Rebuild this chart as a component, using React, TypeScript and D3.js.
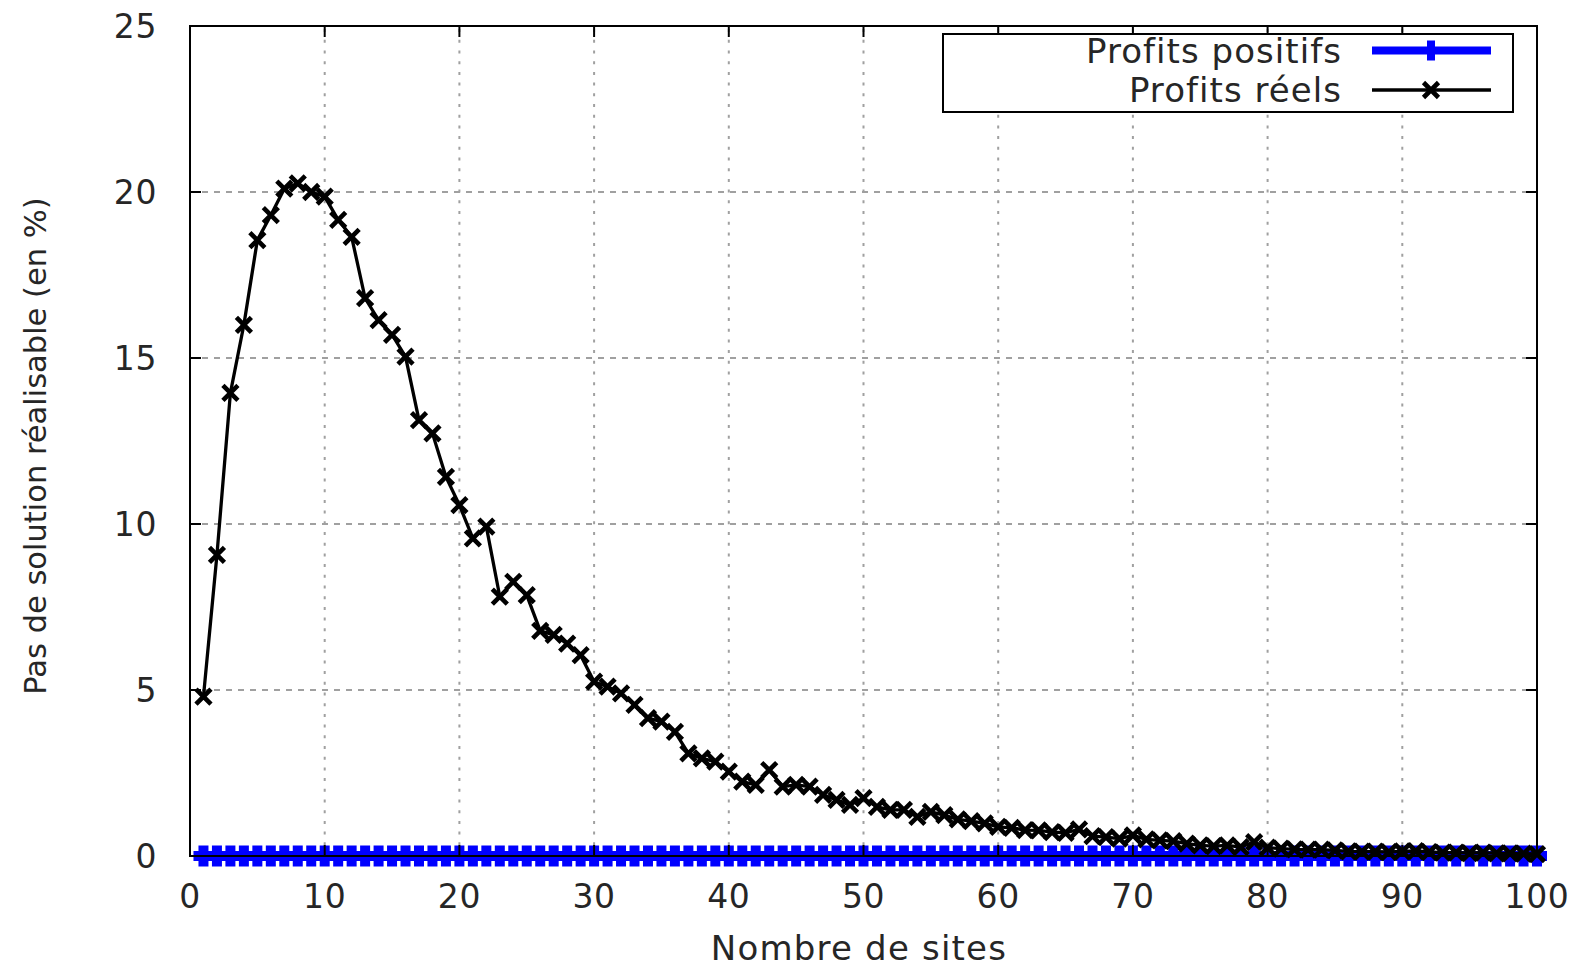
import React from "react";
import * as d3 from "d3";

const xTicks = [0, 10, 20, 30, 40, 50, 60, 70, 80, 90, 100];
const yTicks = [0, 5, 10, 15, 20, 25];
const seriesNames = ["Profits positifs", "Profits réels"];
const xTitle = "Nombre de sites";
const yTitle = "Pas de solution réalisable (en %)";

const profitsReels = [
  4.8, 9.07, 13.95, 16.0, 18.55, 19.3, 20.1, 20.26, 20.0, 19.86,
  19.16, 18.65, 16.8, 16.14, 15.7, 15.04, 13.13, 12.73, 11.42, 10.57,
  9.57, 9.92, 7.81, 8.26, 7.86, 6.78, 6.66, 6.4, 6.05, 5.25,
  5.1, 4.9, 4.55, 4.15, 4.05, 3.74, 3.09, 2.94, 2.84, 2.54,
  2.24, 2.14, 2.59, 2.09, 2.14, 2.09, 1.84, 1.69, 1.54, 1.74,
  1.48, 1.39, 1.39, 1.18, 1.33, 1.23, 1.1, 1.05, 0.98, 0.88,
  0.85, 0.78, 0.77, 0.72, 0.7, 0.8, 0.6, 0.57, 0.52, 0.62,
  0.5, 0.47, 0.45, 0.37, 0.32, 0.3, 0.32, 0.27, 0.42, 0.25,
  0.22, 0.2, 0.19, 0.19, 0.17, 0.14, 0.13, 0.13, 0.12, 0.14,
  0.15, 0.12, 0.1, 0.1, 0.09, 0.1, 0.08, 0.08, 0.07, 0.06,
];

const profitsPositifs = [
  0, 0, 0, 0, 0, 0, 0, 0, 0, 0,
  0, 0, 0, 0, 0, 0, 0, 0, 0, 0,
  0, 0, 0, 0, 0, 0, 0, 0, 0, 0,
  0, 0, 0, 0, 0, 0, 0, 0, 0, 0,
  0, 0, 0, 0, 0, 0, 0, 0, 0, 0,
  0, 0, 0, 0, 0, 0, 0, 0, 0, 0,
  0, 0, 0, 0, 0, 0, 0, 0, 0, 0,
  0, 0, 0, 0, 0, 0, 0, 0, 0, 0,
  0, 0, 0, 0, 0, 0, 0, 0, 0, 0,
  0, 0, 0, 0, 0, 0, 0, 0, 0, 0,
];

const sites = d3.range(1, profitsReels.length + 1);

const FONT = "'DejaVu Sans', sans-serif";
const BLUE = "#0000ff";
const GRID = "#a0a0a0";
const TEXT = "#262626";

function Plus({ cx, cy }: { cx: number; cy: number }) {
  return (
    <path
      d={`M${cx - 10},${cy}L${cx + 10},${cy}M${cx},${cy - 10.5}L${cx},${cy + 10.5}`}
      stroke={BLUE}
      strokeWidth={10}
      fill="none"
    />
  );
}

function Cross({ cx, cy }: { cx: number; cy: number }) {
  const s = 7.5;
  return (
    <path
      d={`M${cx - s},${cy - s}L${cx + s},${cy + s}M${cx - s},${cy + s}L${cx + s},${cy - s}`}
      stroke="#000"
      strokeWidth={4.6}
      fill="none"
    />
  );
}

export default function App() {
  const W = 1585;
  const H = 965;
  const L = 190, R = 1537, T = 26, B = 856;
  const x = d3.scaleLinear().domain([0, 100]).range([L, R]);
  const y = d3.scaleLinear().domain([0, 25]).range([B, T]);

  const line = d3
    .line<number>()
    .x((_, i) => x(sites[i]))
    .y((d) => y(d));

  const tickLen = 11;
  const legendX1 = 1372, legendX2 = 1491, legendMid = 1431;
  const legendY1 = 50.5, legendY2 = 90;

  return (
    <svg
      width={W}
      height={H}
      style={{ position: "absolute", left: 0, top: 0, background: "#fff" }}
      fontFamily={FONT}
    >
      <rect x={0} y={0} width={W} height={H} fill="#fff" />
      {/* grid */}
      {xTicks.filter((t) => t > 0 && t < 100).map((t) => (
        <line key={"gx" + t} x1={x(t)} x2={x(t)} y1={B} y2={T} stroke={GRID} strokeWidth={2} strokeDasharray="3 7.7" />
      ))}
      {yTicks.filter((t) => t > 0 && t < 25).map((t) => (
        <line key={"gy" + t} x1={L} x2={R} y1={y(t)} y2={y(t)} stroke={GRID} strokeWidth={2} strokeDasharray="6 6" />
      ))}

      {/* series 1: blue */}
      <path d={line(profitsPositifs) || ""} stroke={BLUE} strokeWidth={9} fill="none" />
      {profitsPositifs.map((v, i) => (
        <Plus key={"p" + i} cx={x(sites[i])} cy={y(v)} />
      ))}

      {/* series 2: black */}
      <path d={line(profitsReels) || ""} stroke="#000" strokeWidth={3.3} fill="none" strokeLinejoin="round" />
      {profitsReels.map((v, i) => (
        <Cross key={"r" + i} cx={x(sites[i])} cy={y(v)} />
      ))}

      {/* ticks */}
      {xTicks.map((t) => (
        <g key={"tx" + t}>
          <line x1={x(t)} x2={x(t)} y1={B} y2={B - tickLen} stroke="#000" strokeWidth={2} />
          <line x1={x(t)} x2={x(t)} y1={T} y2={T + tickLen} stroke="#000" strokeWidth={2} />
          <text x={x(t)} y={896} textAnchor="middle" dominantBaseline="central" fontSize={33} fill={TEXT} letterSpacing={0.6}>
            {t}
          </text>
        </g>
      ))}
      {yTicks.map((t) => (
        <g key={"ty" + t}>
          <line x1={L} x2={L + tickLen} y1={y(t)} y2={y(t)} stroke="#000" strokeWidth={2} />
          <line x1={R} x2={R - tickLen} y1={y(t)} y2={y(t)} stroke="#000" strokeWidth={2} />
          <text x={157} y={y(t)} textAnchor="end" dominantBaseline="central" fontSize={33} fill={TEXT} letterSpacing={0.6}>
            {t}
          </text>
        </g>
      ))}

      {/* border */}
      <rect x={L} y={T} width={R - L} height={B - T} fill="none" stroke="#000" strokeWidth={2} />

      {/* axis titles */}
      <text x={859} y={948} textAnchor="middle" dominantBaseline="central" fontSize={34} fill={TEXT} letterSpacing={1.2}>
        {xTitle}
      </text>
      <text
        transform={`translate(35,446) rotate(-90)`}
        textAnchor="middle"
        dominantBaseline="central"
        fontSize={30.5}
        fill={TEXT}
      >
        {yTitle}
      </text>

      {/* legend */}
      <rect x={943} y={34} width={570} height={78} fill="#fff" stroke="#000" strokeWidth={2} />
      <text x={1342} y={legendY1} textAnchor="end" dominantBaseline="central" fontSize={34} fill={TEXT} letterSpacing={1.05}>
        {seriesNames[0]}
      </text>
      <line x1={legendX1} x2={legendX2} y1={legendY1} y2={legendY1} stroke={BLUE} strokeWidth={8} />
      <path
        d={`M${legendMid},${legendY1 - 10}L${legendMid},${legendY1 + 10}`}
        stroke={BLUE}
        strokeWidth={8}
      />
      <text x={1342} y={legendY2} textAnchor="end" dominantBaseline="central" fontSize={34} fill={TEXT} letterSpacing={1.05}>
        {seriesNames[1]}
      </text>
      <line x1={legendX1} x2={legendX2} y1={legendY2} y2={legendY2} stroke="#000" strokeWidth={3.3} />
      <Cross cx={legendMid} cy={legendY2} />
    </svg>
  );
}
